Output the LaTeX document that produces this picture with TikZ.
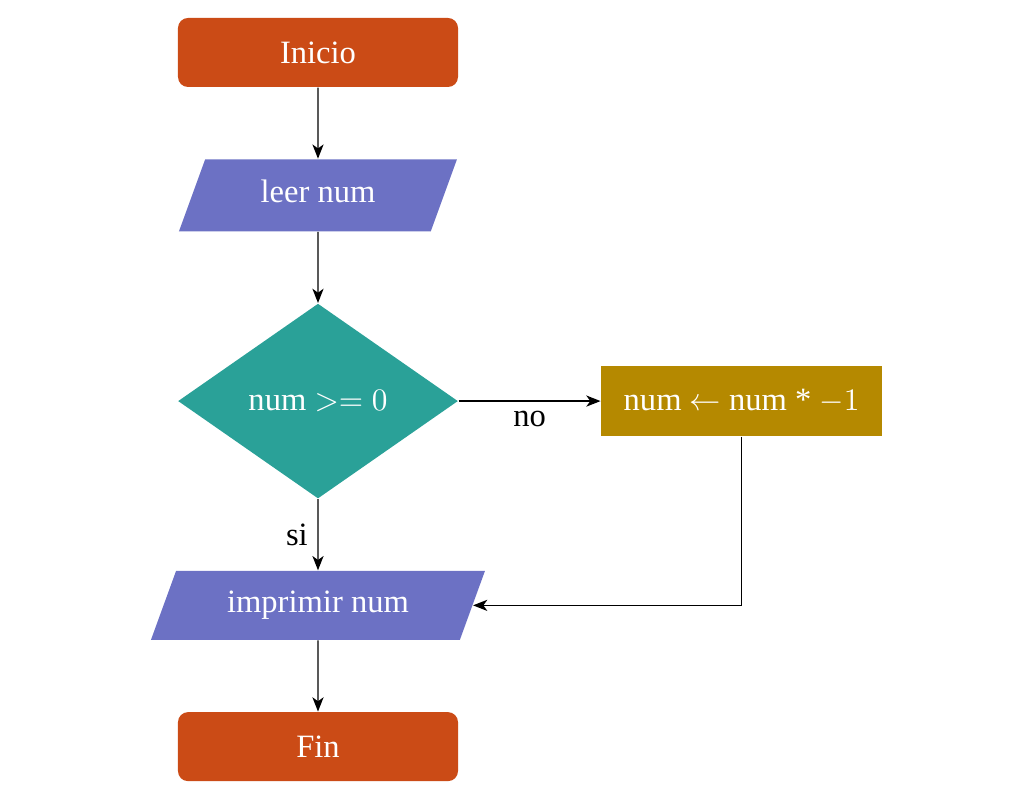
\documentclass[tikz,border=0pt]{standalone}
\usepackage{fontspec}
\setmainfont{Liberation Serif}
\usepackage{xcolor}
\usetikzlibrary{shapes,arrows.meta,positioning}
\definecolor{naranja}{HTML}{CB4B16}
\definecolor{violeta}{HTML}{6C71C4}
\definecolor{cian}{HTML}{2AA198}
\definecolor{amarillo}{HTML}{B58900}

\begin{document}
\begin{tikzpicture}[node distance=24.9pt, font=\fontsize{11.4pt}{14pt}\selectfont,
    terminal/.style={rectangle, rounded corners=3.5pt, fill=naranja, text=white, minimum width=98pt, minimum height=24.15pt},
    entrada/.style={trapezium, trapezium left angle=70, trapezium right angle=110, trapezium stretches body, fill=violeta, text=white, text height=7.2pt, text depth=2.2pt, inner ysep=7.9pt},
    decision/.style={diamond, fill=cian, text=white, inner sep=0pt, minimum width=98pt, minimum height=68.25pt},
    proceso/.style={rectangle, fill=amarillo, text=white, minimum width=98.35pt, minimum height=24.5pt},
    flecha/.style={-{Stealth[length=5pt,width=3.9pt,inset=1.4pt]}, line width=0.5pt}]
      \useasboundingbox (-111.3pt,18.375pt) rectangle (247.1pt,-261.625pt);
      \node[terminal] (inicio) at (0,0) {Inicio};
      \node[entrada, minimum width=97.3pt, below=of inicio] (leer) {leer num};
      \node[decision, below=of leer] (cond) {num $>= 0$};
      \node[proceso, right=49.7pt of cond] (op) {num $\leftarrow$ num * $-1$};
      \node[entrada, minimum width=116.9pt, inner ysep=7.37pt, below=of cond] (imp) {imprimir num};
      \node[terminal, below=of imp] (fin) {Fin};
      \draw[flecha] (inicio) -- (leer);
      \draw[flecha] (leer) -- (cond);
      \draw[flecha] (cond) -- node[below] {no} (op);
      \draw[flecha] (cond) -- node[left] {si} (imp);
      \draw[flecha] (op.south) |- (imp.east);
      \draw[flecha] (imp) -- (fin);
\end{tikzpicture}
\end{document}
